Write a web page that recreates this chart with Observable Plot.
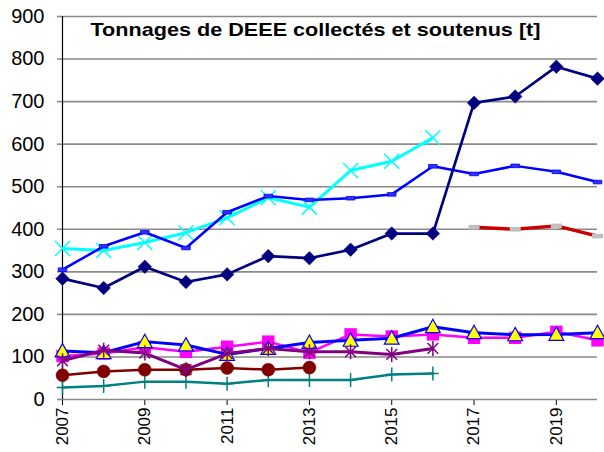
<!DOCTYPE html>
<html>
<head>
<meta charset="utf-8">
<script src="https://cdn.jsdelivr.net/npm/d3@7"></script>
<script src="https://cdn.jsdelivr.net/npm/@observablehq/plot@0.6"></script>
<style>
  html, body { margin: 0; padding: 0; background: #fff; }
  #chart { width: 604px; height: 452px; }
</style>
</head>
<body>
<div id="chart"></div>
<script>
// ---- data ----
const titleText = ["Tonnages de DEEE collectés et soutenus [t]"];
const years = [2007, 2008, 2009, 2010, 2011, 2012, 2013, 2014, 2015, 2016, 2017, 2018, 2019, 2020];
const xTicks = [2007, 2009, 2011, 2013, 2015, 2017, 2019];
const yTicks = [0, 100, 200, 300, 400, 500, 600, 700, 800, 900];

const navySeries    = [284, 262, 312, 276, 294, 337, 332, 352, 390, 390, 697, 712, 782, 754];
const blueSeries    = [305, 360, 393, 356, 440, 478, 469, 473, 482, 548, 530, 549, 535, 511];
const cyanSeries    = [355, 350, 369, 392, 427, 474, 452, 538, 560, 615, null, null, null, null];
const redSeries     = [null, null, null, null, null, null, null, null, null, null, 405, 400, 408, 384];
const magentaSeries = [102, 108, 123, 112, 124, 136, 110, 153, 148, 153, 145, 145, 159, 139];
const triangleSeries= [114, 110, 136, 128, 106, 120, 134, 139, 144, 171, 157, 152, 153, 157];
const purpleSeries  = [91, 116, 109, 70, 108, 120, 112, 112, 106, 120, null, null, null, null];
const darkredSeries = [57, 66, 70, 70, 74, 70, 75, null, null, null, null, null, null, null];
const tealSeries    = [28, 32, 42, 42, 37, 46, 46, 46, 59, 61, null, null, null, null];

function rows(vals) {
  return years.map((year, i) => ({year, value: vals[i]})).filter(d => d.value != null);
}

// ---- marker symbols ----
const rad = s => Math.sqrt(s / Math.PI);
const symDiamond = {draw(c, s) { const r = rad(s); c.moveTo(0, -r); c.lineTo(r, 0); c.lineTo(0, r); c.lineTo(-r, 0); c.closePath(); }};
const symSquare = {draw(c, s) { const r = rad(s); c.rect(-r, -r, 2 * r, 2 * r); }};
const symTriangle = {draw(c, s) { const r = rad(s); c.moveTo(0, -r); c.lineTo(r, 0.8 * r); c.lineTo(-r, 0.8 * r); c.closePath(); }};
const symStar = {draw(c, s) { const r = rad(s), k = r * 0.72;
  c.moveTo(0, -r); c.lineTo(0, r);
  c.moveTo(-k, -k); c.lineTo(k, k);
  c.moveTo(-k, k); c.lineTo(k, -k); }};
const symX = {draw(c, s) { const r = rad(s); c.moveTo(-r, -r); c.lineTo(r, r); c.moveTo(-r, r); c.lineTo(r, -r); }};
const symPlus = {draw(c, s) { const r = rad(s); c.moveTo(0, -r); c.lineTo(0, r); c.moveTo(-0.85 * r, 0); c.lineTo(0.85 * r, 0); }};
const symDash = {draw(c, s) { const r = rad(s); c.rect(-r, -0.42 * r, 2 * r, 0.84 * r); }};

function series(vals, lineColor, lineWidth, dotOpts) {
  const data = rows(vals);
  return [
    Plot.line(data, {x: "year", y: "value", stroke: lineColor, strokeWidth: lineWidth}),
    Plot.dot(data, {x: "year", y: "value", ...dotOpts})
  ];
}

const chart = Plot.plot({
  width: 604,
  height: 452,
  marginLeft: 62,
  marginRight: 7,
  marginTop: 16,
  marginBottom: 53,
  style: {background: "#fff", fontFamily: "'Liberation Sans', Arial, sans-serif", fontSize: "17px", color: "#000"},
  x: {domain: [2007, 2020], ticks: xTicks, tickFormat: d => String(d), tickRotate: -90, tickSize: 6, tickPadding: 2, label: null},
  y: {domain: [0, 900], ticks: yTicks, tickSize: 5, tickPadding: 13, label: null},
  marks: [
    Plot.ruleY(yTicks, {stroke: "#8a8a8a", strokeWidth: 1.6}),
    Plot.ruleX([years[0]], {stroke: "#000", strokeWidth: 1.2}),
    Plot.text(titleText, {frameAnchor: "top-left", dx: 28, dy: 6, textAnchor: "start", lineAnchor: "top", fontWeight: "bold", fontSize: 19, fill: "#000"}),
    ...series(tealSeries, "#008080", 2.5, {symbol: symPlus, r: 7, fill: "none", stroke: "#008080", strokeWidth: 1.5}),
    ...series(darkredSeries, "#800000", 2.5, {symbol: "circle", r: 6.5, fill: "#800000", stroke: "#800000", strokeWidth: 0.5}),
    ...series(magentaSeries, "#FF00FF", 2.5, {symbol: symSquare, r: 6.2, fill: "#FF00FF", stroke: "none"}),
    ...series(triangleSeries, "#0000FF", 3, {symbol: symTriangle, r: 7.4, fill: "#FFFF00", stroke: "#0000FF", strokeWidth: 1.2}),
    ...series(purpleSeries, "#800080", 3, {symbol: symStar, r: 7.5, fill: "none", stroke: "#800080", strokeWidth: 1.5}),
    ...series(redSeries, "#CC0000", 3.5, {symbol: symDash, r: 5.5, fill: "#C0C0C0", stroke: "none"}),
    ...series(cyanSeries, "#00FFFF", 3, {symbol: symX, r: 7.5, fill: "none", stroke: "#00FFFF", strokeWidth: 1.5}),
    ...series(blueSeries, "#0000FF", 2.5, {symbol: symDash, r: 4.3, fill: "#3030FF", stroke: "#0000FF", strokeWidth: 0.8}),
    ...series(navySeries, "#000080", 2.7, {symbol: symDiamond, r: 6.8, fill: "#000080", stroke: "#000080", strokeWidth: 0.5})
  ]
});

document.getElementById("chart").appendChild(chart);

// styling of axes
const svg = d3.select(chart.tagName.toLowerCase() === "svg" ? chart : chart.querySelector("svg"));
svg.selectAll('g[aria-label="y-axis"] text, g[aria-label="y-axis tick label"] text').attr("font-size", 20);
svg.selectAll('g[aria-label="y-axis"] line, g[aria-label="y-axis"] path, g[aria-label="y-axis tick"] path').attr("stroke", "#8a8a8a").attr("stroke-width", 1.6);
svg.selectAll("text").filter(function() { return this.textContent === titleText[0]; })
  .attr("textLength", 450).attr("lengthAdjust", "spacingAndGlyphs");
</script>
</body>
</html>
